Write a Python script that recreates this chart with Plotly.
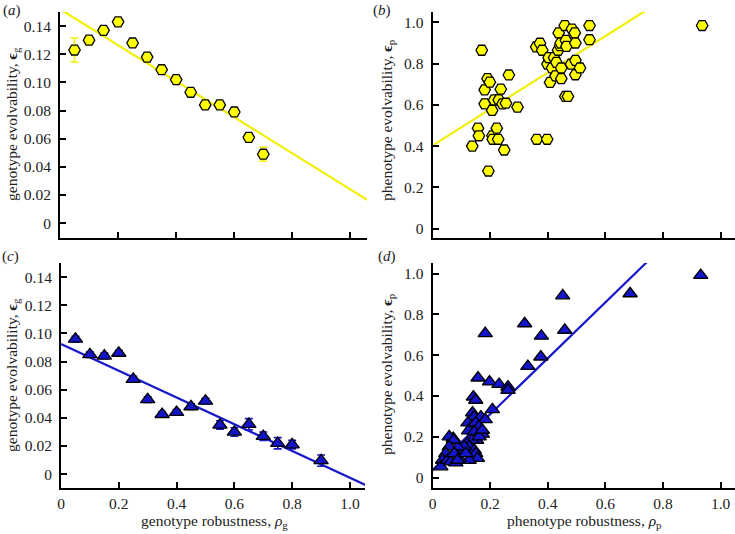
import plotly.graph_objects as go

# ---------------- data ----------------
# panel (a): genotype robustness vs genotype evolvability (yellow)
a_x = [0.05, 0.10, 0.15, 0.20, 0.25, 0.30, 0.35, 0.40, 0.45, 0.50, 0.55, 0.60, 0.65, 0.70]
a_y = [0.123, 0.130, 0.137, 0.143, 0.128, 0.118, 0.109, 0.102, 0.093, 0.084, 0.084, 0.079, 0.061, 0.049]
a_err = [0.0085, 0.002, 0.002, 0.002, 0.002, 0.002, 0.002, 0.002, 0.002, 0.002, 0.002, 0.002, 0.002, 0.005]
a_fit = (0.152, -0.128)  # intercept, slope

# panel (b): phenotype robustness vs phenotype evolvability (yellow)
b_x = [0.138, 0.158, 0.161, 0.171, 0.181, 0.181, 0.191, 0.199, 0.194, 0.207, 0.208, 0.209,
       0.214, 0.223, 0.230, 0.228, 0.237, 0.243, 0.255, 0.249, 0.265, 0.295, 0.362, 0.398,
       0.360, 0.373, 0.381, 0.399, 0.403, 0.408, 0.415, 0.422, 0.427, 0.430, 0.436, 0.438,
       0.443, 0.445, 0.447, 0.447, 0.459, 0.463, 0.465, 0.461, 0.470, 0.481, 0.484, 0.494,
       0.496, 0.496, 0.496, 0.512, 0.545, 0.545, 0.936]
b_y = [0.400, 0.487, 0.450, 0.865, 0.673, 0.605, 0.727, 0.710, 0.279, 0.573, 0.450, 0.433,
       0.624, 0.487, 0.624, 0.433, 0.676, 0.605, 0.608, 0.381, 0.745, 0.589, 0.433, 0.433,
       0.881, 0.899, 0.865, 0.798, 0.829, 0.709, 0.779, 0.829, 0.741, 0.806, 0.865, 0.949,
       0.887, 0.900, 0.779, 0.727, 0.985, 0.913, 0.884, 0.641, 0.641, 0.798, 0.968, 0.949,
       0.900, 0.816, 0.746, 0.779, 0.985, 0.916, 0.985]
b_fit = (0.402, 0.886)

# panel (c): genotype robustness vs genotype evolvability (blue)
c_x = [0.05, 0.10, 0.15, 0.20, 0.25, 0.30, 0.35, 0.40, 0.45, 0.50, 0.55, 0.60, 0.65, 0.70, 0.75, 0.80, 0.90]
c_y = [0.096, 0.085, 0.084, 0.086, 0.0675, 0.053, 0.0425, 0.044, 0.048, 0.052, 0.035, 0.030,
       0.0355, 0.027, 0.022, 0.021, 0.0097]
c_err = [0.002, 0.002, 0.002, 0.002, 0.002, 0.002, 0.002, 0.002, 0.002, 0.002, 0.003, 0.003,
         0.004, 0.003, 0.004, 0.003, 0.004]
c_fit = (0.0925, -0.095)

# panel (d): phenotype robustness vs phenotype evolvability (blue)
d_x = [0.931, 0.686, 0.452, 0.320, 0.183, 0.378, 0.459, 0.376, 0.331, 0.158, 0.198, 0.231,
       0.262, 0.262, 0.142, 0.150, 0.208, 0.139, 0.145, 0.168, 0.183, 0.123, 0.136, 0.150,
       0.162, 0.173, 0.125, 0.145, 0.153, 0.136, 0.121, 0.127, 0.145, 0.150, 0.156, 0.127,
       0.104, 0.098, 0.110, 0.087, 0.072, 0.058, 0.073, 0.058, 0.046, 0.035, 0.029, 0.052,
       0.064, 0.081, 0.092, 0.075, 0.087, 0.116, 0.162, 0.173]
d_y = [0.992, 0.902, 0.892, 0.755, 0.707, 0.694, 0.723, 0.592, 0.546, 0.489, 0.470, 0.458,
       0.445, 0.429, 0.396, 0.380, 0.334, 0.318, 0.298, 0.298, 0.285, 0.269, 0.250, 0.269,
       0.250, 0.214, 0.230, 0.225, 0.184, 0.184, 0.168, 0.152, 0.135, 0.119, 0.095, 0.086,
       0.135, 0.119, 0.152, 0.152, 0.193, 0.201, 0.184, 0.152, 0.119, 0.086, 0.054, 0.086,
       0.078, 0.073, 0.095, 0.119, 0.086, 0.119, 0.201, 0.233]
d_fit = (0.037, 1.37)

# tick labels
xg_vals = [0, 0.2, 0.4, 0.6, 0.8, 1.0]
xg_text = ["0", "0.2", "0.4", "0.6", "0.8", "1.0"]
yg_vals = [0, 0.02, 0.04, 0.06, 0.08, 0.10, 0.12, 0.14]
yg_text = ["0", "0.02", "0.04", "0.06", "0.08", "0.10", "0.12", "0.14"]
yp_vals = [0, 0.2, 0.4, 0.6, 0.8, 1.0]
yp_text = ["0", "0.2", "0.4", "0.6", "0.8", "1.0"]

# ---------------- styling ----------------
W, H = 735, 534
YEL_M = "#FFFF00"
YEL_L = "#F2F000"
BLUE_M = "#1414C8"
BLUE_L = "#1818C8"
FONT = "Liberation Serif"

def px(v):
    return v / W

def py(v):
    return 1 - v / H

fig = go.Figure()

fit_x = [0.0, 1.1]

def add_panel(xs, ys, err, fit, color_m, color_l, symbol, xa, ya):
    xr = "x" + xa
    yr = "y" + ya
    fig.add_trace(go.Scatter(x=fit_x, y=[fit[0] + fit[1] * v for v in fit_x], mode="lines",
                             line=dict(color=color_l, width=2.2), xaxis=xr, yaxis=yr,
                             showlegend=False, hoverinfo="skip"))
    kw = {}
    if err is not None:
        kw["error_y"] = dict(type="data", array=err, visible=True, color=color_l,
                             thickness=1.6, width=4)
    fig.add_trace(go.Scatter(x=xs, y=ys, mode="markers",
                             marker=dict(symbol=symbol, size=11.5 if symbol.startswith("hex") else 12.5,
                                         color=color_m, line=dict(color="black", width=1.3)),
                             xaxis=xr, yaxis=yr, showlegend=False, cliponaxis=False, **kw))

add_panel(a_x, a_y, a_err, a_fit, YEL_M, YEL_L, "hexagon2", "", "")
add_panel(b_x, b_y, None, b_fit, YEL_M, YEL_L, "hexagon2", "2", "2")
add_panel(c_x, c_y, c_err, c_fit, BLUE_M, BLUE_L, "triangle-up", "3", "3")
add_panel(d_x, d_y, None, d_fit, BLUE_M, BLUE_L, "triangle-up", "4", "4")

axis_common = dict(showgrid=False, zeroline=False, showline=True, linecolor="black", linewidth=2,
                   ticks="inside", ticklen=6, tickwidth=1.5, tickcolor="black",
                   tickfont=dict(family=FONT, size=15.5, color="#222"), automargin=False)

top = (py(238), py(12))
bot = (py(488.3), py(263))
left_a = (px(60), px(367))
left_c = (px(61), px(365))
right = (px(432.5), 1.0)

fig.update_layout(
    width=W, height=H, margin=dict(l=0, r=0, t=0, b=0),
    font=dict(family=FONT),
    paper_bgcolor="white", plot_bgcolor="white", showlegend=False,
    xaxis=dict(domain=left_a, range=[0, 1.057], tickvals=xg_vals, ticktext=xg_text,
               showticklabels=False, anchor="y", **axis_common),
    yaxis=dict(domain=top, range=[-0.0105, 0.150], tickvals=yg_vals, ticktext=yg_text,
               anchor="x", ticklabelstandoff=4, **axis_common),
    xaxis2=dict(domain=right, range=[0, 1.05], tickvals=xg_vals, ticktext=xg_text,
                showticklabels=False, anchor="y2", **axis_common),
    yaxis2=dict(domain=top, range=[-0.046, 1.0506], tickvals=yp_vals, ticktext=yp_text,
                anchor="x2", ticklabelstandoff=4, **axis_common),
    xaxis3=dict(domain=left_c, range=[0, 1.052], tickvals=xg_vals, ticktext=xg_text,
                anchor="y3", **axis_common),
    yaxis3=dict(domain=bot, range=[-0.0100, 0.150], tickvals=yg_vals, ticktext=yg_text,
                anchor="x3", ticklabelstandoff=4, **axis_common),
    xaxis4=dict(domain=right, range=[0, 1.05], tickvals=xg_vals, ticktext=xg_text,
                anchor="y4", **axis_common),
    yaxis4=dict(domain=bot, range=[-0.052, 1.052], tickvals=yp_vals, ticktext=yp_text,
                anchor="x4", ticklabelstandoff=4, **axis_common),
)

def ann(text, x, y, angle=0, size=15.5, xanchor="center"):
    fig.add_annotation(text=text, x=px(x), y=py(y), xref="paper", yref="paper",
                       showarrow=False, textangle=angle, xanchor=xanchor, yanchor="middle",
                       font=dict(family=FONT, size=size, color="#222"))

# panel labels
ann("(<i>a</i>)", 1, 10, size=15, xanchor="left")
ann("(<i>b</i>)", 371, 10, size=15, xanchor="left")
ann("(<i>c</i>)", 0, 256, size=15, xanchor="left")
ann("(<i>d</i>)", 376, 256, size=15, xanchor="left")

# y titles
ann("genotype evolvability, <b>ϵ</b><sub>g</sub>", 12, 124, angle=-90)
ann("phenotype evolvability, <b>ϵ</b><sub>p</sub>", 387, 121, angle=-90)
ann("genotype evolvability, <b>ϵ</b><sub>g</sub>", 12, 375, angle=-90)
ann("phenotype evolvability, <b>ϵ</b><sub>p</sub>", 387, 375, angle=-90)

# x titles
ann("genotype robustness, <i>ρ</i><sub>g</sub>", 214, 521)
ann("phenotype robustness, <i>ρ</i><sub>p</sub>", 584, 521)

fig.write_html("out.html", config={"displayModeBar": False},
               post_script="document.body.style.margin='0';document.body.style.overflow='hidden';")
